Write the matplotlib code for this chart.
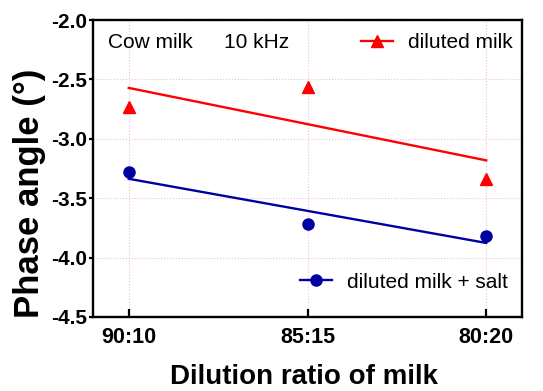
import numpy as np
import matplotlib
matplotlib.use("Agg")
import matplotlib.pyplot as plt
from matplotlib.lines import Line2D

categories = ["90:10", "85:15", "80:20"]
diluted = [-2.73, -2.56, -3.34]
diluted_salt = [-3.28, -3.72, -3.82]
yticks = [-4.5, -4.0, -3.5, -3.0, -2.5, -2.0]

plt.rcParams['font.family'] = ['Liberation Sans', 'DejaVu Sans']

fig = plt.figure(figsize=(5.43, 3.91), dpi=100)
ax = fig.add_axes([93/543, 1-317/391, (522-93)/543, (317-20)/391])

x = np.arange(len(categories))
red = '#ff0000'
blue = '#0000a0'

for ys, c, m in [(diluted, red, '^'), (diluted_salt, blue, 'o')]:
    ax.plot(x, ys, linestyle='none', marker=m, color=c, markersize=8, zorder=3)
    p = np.polyfit(x, ys, 1)
    ax.plot(x, np.polyval(p, x), color=c, lw=1.7, zorder=2)

ax.set_xlim(-0.2, 2.2)
ax.set_ylim(-4.5, -2.0)
ax.set_xticks(x)
ax.set_xticklabels(categories)
ax.set_yticks(yticks)
ax.set_yticklabels([f"{v:.1f}" for v in yticks])
ax.grid(True, color='#f2b8f2', linestyle=':', linewidth=0.8)
ax.set_axisbelow(True)

for s in ax.spines.values():
    s.set_linewidth(1.7)
ax.tick_params(axis='x', direction='in', length=6, width=1.6, labelsize=15.5, pad=7)
ax.tick_params(axis='y', direction='out', length=3, width=1.6, labelsize=15, pad=1.5)
for lab in ax.get_xticklabels() + ax.get_yticklabels():
    lab.set_fontweight('bold')

ax.set_xlabel("Dilution ratio of milk", fontsize=20, fontweight='bold', va='center')
ax.xaxis.set_label_coords((303.5-93)/429, (317-377)/297)
ax.set_ylabel("Phase angle (\u00b0)", fontsize=25, fontweight='bold', va='center')
ax.yaxis.set_label_coords((30-93)/429, (317-193)/297)

ax.text((108-93)/429, (317-43)/297, "Cow milk", transform=ax.transAxes, fontsize=15, va='center')
ax.text((224-93)/429, (317-43)/297, "10 kHz", transform=ax.transAxes, fontsize=15, va='center')

h1 = Line2D([], [], color=red, marker='^', markersize=8, lw=1.7)
h2 = Line2D([], [], color=blue, marker='o', markersize=8, lw=1.7)
leg1 = ax.legend([h1], ["diluted milk"], loc='center right',
                 bbox_to_anchor=((519-93)/429, (317-43)/297),
                 frameon=False, fontsize=15, handlelength=1.55, handletextpad=0.7,
                 borderaxespad=0.0, borderpad=0.3)
ax.add_artist(leg1)
ax.legend([h2], ["diluted milk + salt"], loc='center right',
          bbox_to_anchor=((514-93)/429, (317-282)/297),
          frameon=False, fontsize=15, handlelength=1.55, handletextpad=0.7,
          borderaxespad=0.0, borderpad=0.3)

fig.savefig("out.png", dpi=100)
